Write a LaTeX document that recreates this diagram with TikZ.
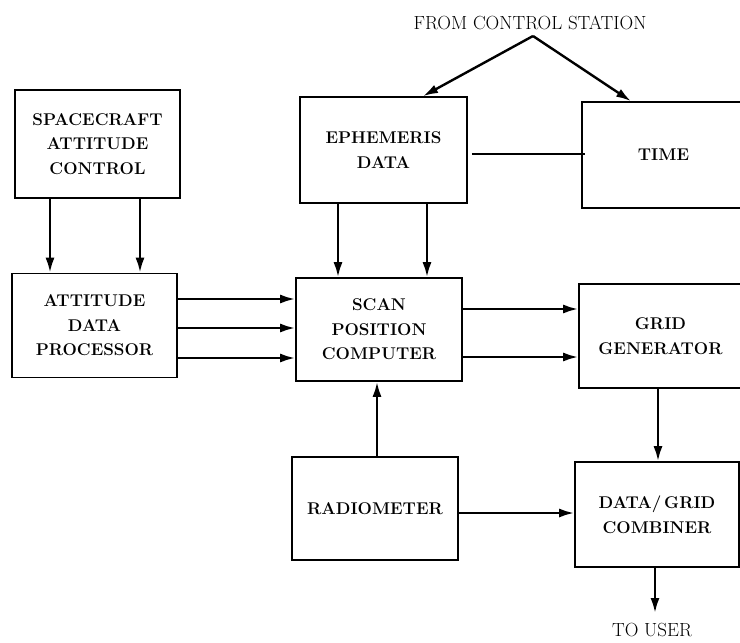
\documentclass[tikz,border=0pt]{standalone}
\usetikzlibrary{arrows.meta,calc}
\begin{document}
\begin{tikzpicture}[x=1pt,y=-1pt,
  box/.style={draw,line width=1.6pt,minimum width=#1,minimum height=104pt,inner sep=0pt,align=center,
    font=\fontsize{17}{24.5}\selectfont\bfseries},
  box/.default=165pt,
  arr/.style={line width=2.4pt,-{Latex[length=15pt,width=9pt]}},
  ln/.style={line width=2.4pt},
  lbl/.style={font=\fontsize{19}{22}\selectfont}]
\useasboundingbox (0,0) rectangle (740,643);
\clip (0,0) rectangle (740,643);
\node[box, minimum height=108pt] (sac) at (97.5,144) {SPACECRAFT\\ATTITUDE\\CONTROL};
\node[box] (adp) at (94.5,325.5) {ATTITUDE\\DATA\\PROCESSOR};
\node[box=167pt, minimum height=106pt] (eph) at (383.5,150) {EPHEMERIS\\DATA};
\node[box=163pt, minimum height=106pt] (time) at (663.5,155) {TIME};
\node[box=166pt, minimum height=103pt] (spc) at (379,329.5) {SCAN\\POSITION\\COMPUTER};
\node[box=163pt, minimum height=104pt] (grid) at (660.5,336) {GRID\\GENERATOR};
\node[box=166pt, minimum height=103pt] (rad) at (375,508.5) {RADIOMETER};
\node[box=164pt, minimum height=105pt] (comb) at (657,514.5) {DATA/\,GRID\\COMBINER};
\node[lbl] (from) at (530,23) {FROM CONTROL STATION};
\coordinate (apex) at (533,36);
\node[lbl] (user) at (652,630) {TO USER};
\coordinate (out) at (655,613);
% spacecraft -> attitude data processor
\draw[arr] ([xshift=-47.5pt]sac.south) -- ([xshift=-47.5pt]sac.south |- adp.north);
\draw[arr] ([xshift=42.5pt]sac.south) -- ([xshift=42.5pt]sac.south |- adp.north);
% attitude data processor -> scan position computer
\draw[arr] ([yshift=26.5pt]adp.east) -- ([yshift=26.5pt]adp.east -| spc.west);
\draw[arr] ([yshift=-2.5pt]adp.east) -- ([yshift=-2.5pt]adp.east -| spc.west);
\draw[arr] ([yshift=-32.5pt]adp.east) -- ([yshift=-32.5pt]adp.east -| spc.west);
% ephemeris -> scan position computer
\draw[arr] ([xshift=-45.5pt]eph.south) -- ([xshift=-45.5pt]eph.south |- spc.north);
\draw[arr] ([xshift=43.5pt]eph.south) -- ([xshift=43.5pt]eph.south |- spc.north);
% ephemeris -- time
\draw[ln] ([xshift=4pt,yshift=-4pt]eph.east) -- ([xshift=4pt,yshift=-4pt]eph.east -| time.west);
% from control station
\draw[arr] (apex) -- ([xshift=39.5pt]eph.north);
\draw[arr] (apex) -- ([xshift=-32.5pt]time.north);
% scan position computer -> grid generator
\draw[arr] ([yshift=20.5pt]spc.east) -- ([yshift=20.5pt]spc.east -| grid.west);
\draw[arr] ([yshift=-27.5pt]spc.east) -- ([yshift=-27.5pt]spc.east -| grid.west);
% radiometer -> scan position computer
\draw[arr] ([xshift=2pt]rad.north) -- ([xshift=2pt]rad.north |- spc.south);
% radiometer -> combiner
\draw[arr] ([yshift=-4.5pt]rad.east) -- ([yshift=-4.5pt]rad.east -| comb.west);
% grid generator -> combiner
\draw[arr] ([xshift=-2.5pt]grid.south) -- ([xshift=-2.5pt]grid.south |- comb.north);
% combiner -> user
\draw[arr] (comb.south -| out) -- (out);
\end{tikzpicture}
\end{document}
